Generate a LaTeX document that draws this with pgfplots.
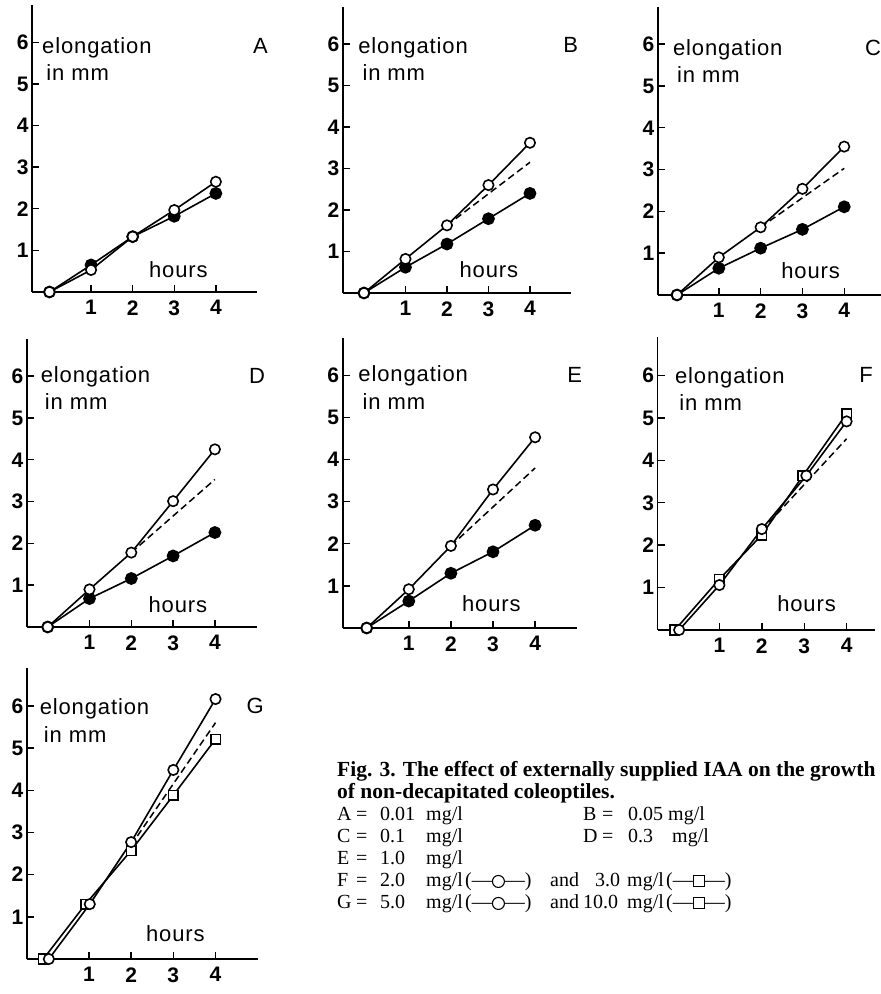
\documentclass[border=0pt]{standalone}
\usepackage{fontspec}
\setmainfont{Liberation Serif}
\usepackage{pgfplots}
\pgfplotsset{compat=1.18}
\newfontfamily\sansf{Liberation Sans}
\newfontfamily\labf[LetterSpace=4]{Liberation Sans}
\newcommand\tickfont{\sansf\bfseries\fontsize{21}{21}\selectfont}
\newcommand\labfont{\labf\fontsize{22}{24}\selectfont}
\newcommand\letfont{\sansf\fontsize{22}{22}\selectfont}
\newcommand\capb{\rmfamily\bfseries\fontsize{21.5}{22}\selectfont}
\newcommand\capr{\rmfamily\fontsize{20}{22}\selectfont}
\newsavebox\circbox
\newsavebox\sqbox

\pgfplotsset{
 panel/.style={axis lines=left, axis line style={line width=1.8pt,-},
   xmax=5, ymin=0, ymax=6.9, xtick={1,2,3,4}, ytick={1,2,3,4,5,6},
   tick align=inside, major tick length=7pt, tick style={black,line width=1.4pt},
   ticklabel style={font=\tickfont}, xticklabel style={yshift=-5pt},
   /pgf/number format/assume math mode=true,
   clip=false, anchor=south west},
 open/.style={black, line width=1.6pt, mark=*, mark options={fill=white, line width=1.6pt, solid}, mark size=5.2pt},
 filled/.style={black, line width=1.6pt, mark=*, mark options={fill=black, solid}, mark size=5.6pt},
 sq/.style={black, line width=1.6pt, mark=square*, mark options={fill=white, line width=1.6pt, solid}, mark size=4.8pt},
 extra/.style={black, line width=1.5pt, dash pattern=on 7pt off 4pt},
}
\newcommand\panellabels[7]{%
 \draw[line width=1.8pt] (rel axis cs:0,0) -- ++(-6pt,0);
 \node[anchor=base west, inner sep=0, font=\labfont] at (axis cs:#1,#2) {elongation};
 \node[anchor=base west, inner sep=0, font=\labfont] at (axis cs:#1+0.1,#2-0.65) {in mm};
 \node[anchor=base west, inner sep=0, font=\labfont] at (axis cs:#3,#4) {hours};
 \node[anchor=base, inner sep=0, font=\letfont] at (axis cs:#5,#6) {#7};
}

\begin{document}%
\sbox\circbox{\tikz\draw[line width=1.1pt] (0,0) circle (6pt);}%
\sbox\sqbox{\tikz\draw[line width=1.1pt] (0,0) rectangle (11pt,11pt);}%
\begin{tikzpicture}[x=1pt,y=1pt]

% ---------- A ----------
\begin{axis}[panel, x=41.6pt, y=41.6pt, xmin=-0.42, at={(32pt,702pt)}]
\addplot[filled] coordinates {(0,0) (1,0.65) (2,1.33) (3,1.82) (4,2.37)};
\addplot[open] coordinates {(0,0) (1,0.53) (2,1.33) (3,1.97) (4,2.65)};
\panellabels{-0.18}{5.74}{2.39}{0.34}{5.07}{5.74}{A}
\end{axis}

% ---------- B ----------
\begin{axis}[panel, x=41.5pt, y=41.5pt, xmin=-0.51, at={(342.8pt,701pt)}]
\addplot[extra] coordinates {(2,1.63) (4,3.15)};
\addplot[filled] coordinates {(0,0) (1,0.62) (2,1.18) (3,1.79) (4,2.40)};
\addplot[open] coordinates {(0,0) (1,0.82) (2,1.63) (3,2.60) (4,3.62)};
\panellabels{-0.14}{5.78}{2.30}{0.37}{4.98}{5.79}{B}
\end{axis}

% ---------- C ----------
\begin{axis}[panel, x=41.8pt, y=41.8pt, xmin=-0.46, at={(657.8pt,699pt)}]
\addplot[extra] coordinates {(2,1.62) (4,3.03)};
\addplot[filled] coordinates {(0,0) (1,0.64) (2,1.12) (3,1.57) (4,2.11)};
\addplot[open] coordinates {(0,0) (1,0.90) (2,1.62) (3,2.54) (4,3.55)};
\panellabels{-0.10}{5.74}{2.49}{0.40}{4.69}{5.74}{C}
\end{axis}

% ---------- D ----------
\begin{axis}[panel, x=41.8pt, y=41.8pt, xmin=-0.50, at={(26.8pt,367pt)}]
\addplot[extra] coordinates {(2,1.78) (4,3.53)};
\addplot[filled] coordinates {(0,0) (1,0.68) (2,1.16) (3,1.70) (4,2.26)};
\addplot[open] coordinates {(0,0) (1,0.90) (2,1.78) (3,3.01) (4,4.25)};
\panellabels{-0.17}{5.85}{2.41}{0.34}{5.01}{5.83}{D}
\end{axis}

% ---------- E ----------
\begin{axis}[panel, x=42.1pt, y=42.1pt, xmin=-0.57, at={(342.7pt,366pt)}]
\addplot[extra] coordinates {(2,1.95) (4,3.80)};
\addplot[filled] coordinates {(0,0) (1,0.64) (2,1.30) (3,1.81) (4,2.44)};
\addplot[open] coordinates {(0,0) (1,0.92) (2,1.95) (3,3.29) (4,4.53)};
\panellabels{-0.20}{5.85}{2.26}{0.40}{4.94}{5.83}{E}
\end{axis}

% ---------- F ----------
\begin{axis}[panel, x=42.4pt, y=42.4pt, xmin=-0.46, xmax=4.67, at={(657.5pt,364pt)}]
\addplot[extra] coordinates {(2,2.35) (4,4.51)};
\addplot[sq] coordinates {(-0.05,0) (1,1.20) (2,2.24) (2.97,3.64) (4,5.10)};
\addplot[open] coordinates {(0.05,0) (1,1.06) (2,2.38) (3.05,3.64) (4,4.92)};
\panellabels{-0.05}{5.82}{2.36}{0.44}{4.46}{5.83}{F}
\end{axis}

% ---------- G ----------
\begin{axis}[panel, x=42.2pt, y=42.2pt, xmin=-0.47, at={(26.9pt,35pt)}]
\addplot[extra] coordinates {(2,2.70) (4,5.60)};
\addplot[sq] coordinates {(-0.08,0) (0.92,1.30) (2,2.57) (3,3.88) (4,5.21)};
\addplot[open] coordinates {(0.05,0) (1.02,1.30) (2,2.77) (3,4.48) (4,6.16)};
\panellabels{-0.17}{5.79}{2.35}{0.41}{4.94}{5.81}{G}
\end{axis}

% ---------- caption ----------
\begin{scope}[every node/.style={anchor=base west, inner sep=0}]
\node[font=\capb] at (337,217) {Fig. 3. The effect of externally supplied IAA on the growth};
\node[font=\capb] at (337,195) {of non-decapitated coleoptiles.};
% A / B
\node[font=\capr] at (337,173) {A};
\node[font=\capr] at (356,173) {=};
\node[font=\capr] at (380,173) {0.01};
\node[font=\capr] at (426,173) {mg/l};
\node[font=\capr] at (583,173) {B};
\node[font=\capr] at (602,173) {=};
\node[font=\capr] at (628,173) {0.05};
\node[font=\capr] at (668,173) {mg/l};
% C / D
\node[font=\capr] at (337,151) {C};
\node[font=\capr] at (356,151) {=};
\node[font=\capr] at (380,151) {0.1};
\node[font=\capr] at (426,151) {mg/l};
\node[font=\capr] at (583,151) {D};
\node[font=\capr] at (602,151) {=};
\node[font=\capr] at (628,151) {0.3};
\node[font=\capr] at (672,151) {mg/l};
% E
\node[font=\capr] at (337,129) {E};
\node[font=\capr] at (356,129) {=};
\node[font=\capr] at (380,129) {1.0};
\node[font=\capr] at (426,129) {mg/l};
% F
\node[font=\capr] at (337,107) {F};
\node[font=\capr] at (356,107) {=};
\node[font=\capr] at (380,107) {2.0};
\node[font=\capr] at (426,107) {mg/l};
\node[font=\capr] at (465,107) {(—\raisebox{-1pt}{\usebox\circbox}—)};
\node[font=\capr] at (550,107) {and};
\node[font=\capr] at (595,107) {3.0};
\node[font=\capr] at (627,107) {mg/l};
\node[font=\capr] at (666,107) {(—\raisebox{-0.5pt}{\usebox\sqbox}—)};
% G
\node[font=\capr] at (337,85) {G};
\node[font=\capr] at (356,85) {=};
\node[font=\capr] at (380,85) {5.0};
\node[font=\capr] at (426,85) {mg/l};
\node[font=\capr] at (465,85) {(—\raisebox{-1pt}{\usebox\circbox}—)};
\node[font=\capr] at (550,85) {and};
\node[font=\capr] at (583,85) {10.0};
\node[font=\capr] at (627,85) {mg/l};
\node[font=\capr] at (666,85) {(—\raisebox{-0.5pt}{\usebox\sqbox}—)};
\end{scope}

\pgfresetboundingbox
\path[use as bounding box] (0,0) rectangle (881,994);
\end{tikzpicture}%
\end{document}
